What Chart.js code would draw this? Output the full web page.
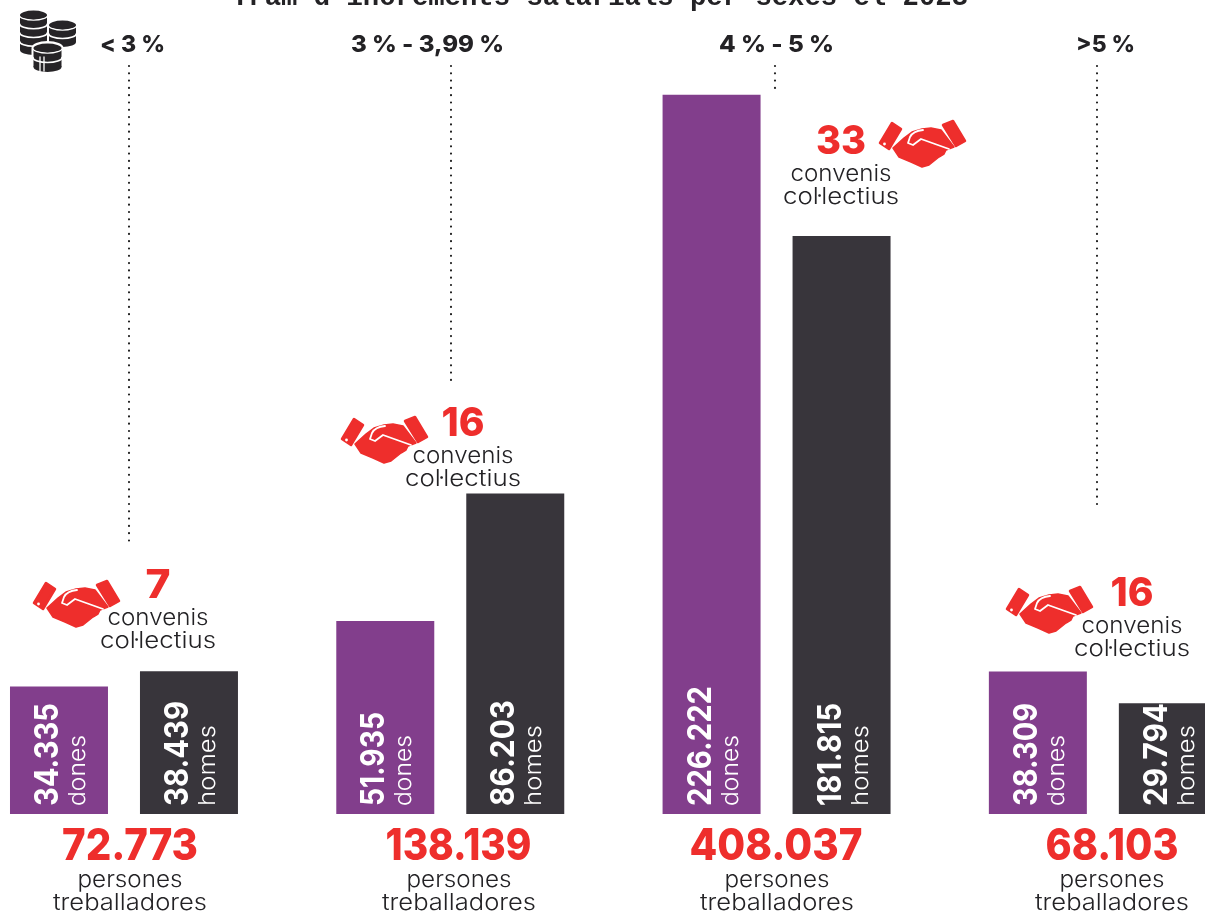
<!DOCTYPE html>
<html lang="ca"><head><meta charset="utf-8">
<style>html,body{margin:0;padding:0;background:#fff;overflow:hidden;width:1205px;height:913px}
#w{position:absolute;left:0;top:0;width:1205px;height:913px;overflow:hidden}
canvas{position:absolute;left:-40px;top:0}</style>
<script src="https://cdn.jsdelivr.net/npm/chart.js@4"></script></head><body>
<div id="w"><canvas id="c" width="1306" height="913"></canvas></div>
<script>
const chartTitle = "Tram d'increments salarials per sexes el 2023";
const categories = ["< 3 %", "3 % - 3,99 %", "4 % - 5 %", ">5 %"];
const dones = [34335, 51935, null, 38309];
const homes = [38439, 86203, null, 29794];
const donesTall = [null, null, 226222, null];
const homesTall = [null, null, 181815, null];
const totals = [72773, 138139, 408037, 68103];
const convenis = [7, 16, 33, 16];
const FONT = 'Inter, "Open Sans", sans-serif';
const RED = '#ee2e2c', INK = '#232225', PURPLE = '#823e8c', DARK = '#38353b';
const fmt = n => String(n).replace(/\B(?=(\d{3})+$)/g, '.');

// Draws text stretched to an exact width, so the substitute font keeps the reference's extents.
function fit(ctx, s, x, y, font, color, w, align) {
  ctx.save();
  ctx.font = font; ctx.fillStyle = color; ctx.textBaseline = 'alphabetic'; ctx.textAlign = 'left';
  const k = w / ctx.measureText(s).width;
  ctx.translate(align === 'left' ? x : x - w / 2, y);
  ctx.scale(k, 1);
  ctx.fillText(s, 0, 0);
  ctx.restore();
}
function poly(ctx, pts) { ctx.beginPath(); pts.forEach((p, i) => i ? ctx.lineTo(p[0], p[1]) : ctx.moveTo(p[0], p[1])); ctx.closePath(); }
function shake(ctx, ox, oy) {
  ctx.save(); ctx.translate(ox, oy);
  ctx.fillStyle = RED; ctx.strokeStyle = RED; ctx.lineJoin = 'round'; ctx.lineWidth = 2.5;
  poly(ctx, [[2,23],[14,3],[23,9],[11,29]]); ctx.fill(); ctx.stroke();
  poly(ctx, [[65,5],[75,1],[87,21],[78,26]]); ctx.fill(); ctx.stroke();
  ctx.lineWidth = 1.5;
  poly(ctx, [[15,28],[26,18],[34,12],[44,9],[53,8],[63,10],[76,27],[68,30],[66,34],[61,37],[56,41],[51,45],[44,47],[33,42],[21,37]]); ctx.fill(); ctx.stroke();
  ctx.strokeStyle = '#fff'; ctx.lineWidth = 1.8; ctx.lineCap = 'round'; ctx.lineJoin = 'round';
  ctx.beginPath(); ctx.moveTo(45, 10); ctx.quadraticCurveTo(35, 11, 32, 17); ctx.lineTo(30, 23); ctx.lineTo(35, 25); ctx.lineTo(43, 19); ctx.lineTo(71, 29); ctx.stroke();
  ctx.fillStyle = '#fff'; ctx.beginPath(); ctx.arc(6.5, 24, 1.4, 0, 7); ctx.fill();
  ctx.restore();
}
function coins(ctx, cx, top, rx, ry, layers, lh, outline) {
  ctx.save();
  const h = layers * lh;
  if (outline) {
    ctx.fillStyle = '#fff'; ctx.beginPath();
    ctx.ellipse(cx, top, rx + 2, ry + 2, 0, 0, 7); ctx.rect(cx - rx - 2, top, 2 * rx + 4, h); ctx.ellipse(cx, top + h, rx + 2, ry + 2, 0, 0, 7); ctx.fill();
  }
  ctx.fillStyle = '#262427'; ctx.beginPath(); ctx.ellipse(cx, top + h, rx, ry, 0, 0, 7); ctx.fill();
  ctx.fillRect(cx - rx, top, 2 * rx, h);
  ctx.strokeStyle = '#fff'; ctx.lineWidth = 1.6;
  for (let i = 0; i < layers; i++) {
    ctx.beginPath(); ctx.ellipse(cx, top + i * lh, rx + .5, ry, 0, 0, Math.PI); ctx.stroke();
  }
  ctx.fillStyle = '#262427'; ctx.beginPath(); ctx.ellipse(cx, top, rx, ry - .6, 0, 0, 7); ctx.fill();
  ctx.restore();
}
const annotate = {
  id: 'annotate',
  afterDatasetsDraw(chart) {
    const ctx = chart.ctx;
    ctx.save();
    ctx.translate(40, 0); // page coordinates below
    fit(ctx, chartTitle, 600, 5, 'bold 27px "Liberation Mono", monospace', INK, 736);
    const headX = [132.5, 427.5, 776.5, 1105.5], headW = [65, 153, 115, 59];
    categories.forEach((c, i) => fit(ctx, c, headX[i], 52, '800 23px ' + FONT, INK, headW[i]));
    const lead = [[129, 543], [451, 382], [775, 95], [1097, 506]];
    ctx.strokeStyle = '#222'; ctx.lineWidth = 2.2; ctx.lineCap = 'round'; ctx.setLineDash([0, 7.3]);
    lead.forEach(l => { ctx.beginPath(); ctx.moveTo(l[0], 66); ctx.lineTo(l[0], l[1]); ctx.stroke(); });
    ctx.setLineDash([]);
    coins(ctx, 62.5, 25, 13.5, 5, 2, 8.5);
    coins(ctx, 33.5, 15, 13.5, 5, 4, 8.75);
    coins(ctx, 47.5, 48, 14, 5, 2, 9.5, true);
    ctx.strokeStyle = '#fff'; ctx.lineWidth = 1.3; ctx.beginPath();
    [40, 44].forEach(x => { ctx.moveTo(x, 57); ctx.lineTo(x, 71); }); ctx.stroke();
    const totX = [130, 458.5, 776, 1112], perX = [130, 459, 777, 1112], totW = [136, 146, 173, 133];
    totals.forEach((t, i) => {
      fit(ctx, fmt(t), totX[i], 860, '800 44px ' + FONT, RED, totW[i]);
      fit(ctx, 'persones', perX[i], 887, '300 23px ' + FONT, INK, 105);
      fit(ctx, 'treballadores', perX[i], 910, '300 23px ' + FONT, INK, 154);
    });
    const agr = [[158, 598, 32, 580], [463, 436, 340, 416], [841, 154, 878, 120], [1132, 606, 1005, 586]];
    const numW = [25, 43, 50, 43];
    convenis.forEach((n, i) => {
      const a = agr[i];
      fit(ctx, String(n), a[0], a[1], '800 40px ' + FONT, RED, numW[i]);
      fit(ctx, 'convenis', a[0], a[1] + 27, '300 23px ' + FONT, INK, 101);
      fit(ctx, 'col·lectius', a[0], a[1] + 50, '300 23px ' + FONT, INK, 116);
      shake(ctx, a[2], a[3]);
    });
    ctx.restore();
    const valueW = { 34335: 103, 38439: 105, 51935: 94, 86203: 106, 226222: 120, 181815: 103, 38309: 103, 29794: 103 };
    const kindW = { dones: 71, homes: 81 };
    chart.data.datasets.forEach((ds, d) => {
      const meta = chart.getDatasetMeta(d);
      ds.data.forEach((v, i) => {
        if (v === null) return;
        const left = meta.data[i].x - 49;
        ctx.save(); ctx.translate(left + 48, 806); ctx.rotate(-Math.PI / 2);
        fit(ctx, fmt(v), 0, 0, '700 33px ' + FONT, '#fff', valueW[v], 'left');
        ctx.restore();
        ctx.save(); ctx.translate(left + 75, 806); ctx.rotate(-Math.PI / 2);
        fit(ctx, ds.label, 0, 0, '300 23px ' + FONT, '#fff', kindW[ds.label], 'left');
        ctx.restore();
      });
    });
  }
};
const common = { skipNull: true, categoryPercentage: 260 / 326.33, barPercentage: 98 / 130, borderWidth: 0 };
new Chart(document.getElementById('c'), {
  type: 'bar',
  data: {
    labels: categories,
    datasets: [
      { label: 'dones', data: dones, backgroundColor: PURPLE, yAxisID: 'y', ...common },
      { label: 'homes', data: homes, backgroundColor: DARK, yAxisID: 'y', ...common },
      { label: 'dones', data: donesTall, backgroundColor: PURPLE, yAxisID: 'yTall', ...common },
      { label: 'homes', data: homesTall, backgroundColor: DARK, yAxisID: 'yTall', ...common }
    ]
  },
  options: {
    responsive: false, animation: false,
    layout: { padding: { left: 0.83, right: 0, top: 0, bottom: 99 } },
    plugins: { legend: { display: false }, tooltip: { enabled: false }, title: { display: false } },
    scales: {
      x: { display: false, grid: { display: false } },
      y: { display: false, min: 0, max: 219000 },
      yTall: { display: false, min: 0, max: 256000 }
    }
  },
  plugins: [annotate]
});
</script></body></html>
